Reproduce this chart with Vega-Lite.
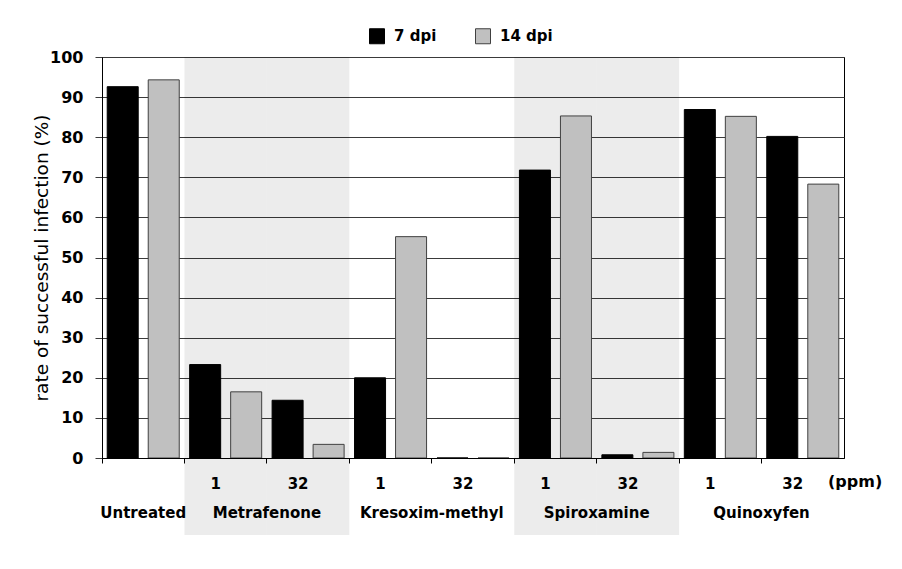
{
  "$schema": "https://vega.github.io/schema/vega-lite/v6.json",
  "width": 742,
  "height": 401,
  "autosize": "none",
  "padding": {"left": 102, "top": 57, "right": 58, "bottom": 111},
  "background": "white",
  "config": {
    "font": "DejaVu Sans",
    "view": {"stroke": "black", "strokeWidth": 1},
    "axisX": {
      "title": null, "bandPosition": 0, "grid": false,
      "domainColor": "black", "tickColor": "black", "tickSize": 5,
      "labelAngle": 0, "labelOffset": -10, "labelPadding": 13,
      "labelFontSize": 15, "labelFontWeight": "bold", "labelColor": "black",
      "labelOverlap": false
    },
    "axisY": {
      "titleFontSize": 18.5, "titleFontWeight": "normal", "titleColor": "black",
      "titlePadding": -2,
      "grid": true, "gridColor": "#3a3a3a", "gridWidth": 1,
      "domainColor": "black", "tickColor": "#3a3a3a", "tickSize": 7,
      "labelFontSize": 16, "labelFontWeight": "bold", "labelColor": "black",
      "labelPadding": 12
    },
    "legend": {
      "orient": "none",
      "legendX": 267,
      "legendY": -29,
      "direction": "horizontal",
      "symbolType": "square",
      "symbolSize": 225,
      "symbolStrokeWidth": 1,
      "labelFont": "DejaVu Sans",
      "labelFontSize": 15,
      "labelFontWeight": "bold",
      "labelColor": "black",
      "labelOffset": 9,
      "columnPadding": 36,
      "padding": 0
    }
  },
  "datasets": {
    "bars": [
      {"slot": "Untreated", "dpi": "7 dpi", "rate": 92.6},
      {"slot": "Untreated", "dpi": "14 dpi", "rate": 94.3},
      {"slot": "Metrafenone 1", "dpi": "7 dpi", "rate": 23.3},
      {"slot": "Metrafenone 1", "dpi": "14 dpi", "rate": 16.5},
      {"slot": "Metrafenone 32", "dpi": "7 dpi", "rate": 14.4},
      {"slot": "Metrafenone 32", "dpi": "14 dpi", "rate": 3.4},
      {"slot": "Kresoxim-methyl 1", "dpi": "7 dpi", "rate": 20.0},
      {"slot": "Kresoxim-methyl 1", "dpi": "14 dpi", "rate": 55.2},
      {"slot": "Kresoxim-methyl 32", "dpi": "7 dpi", "rate": 0},
      {"slot": "Kresoxim-methyl 32", "dpi": "14 dpi", "rate": 0},
      {"slot": "Spiroxamine 1", "dpi": "7 dpi", "rate": 71.8},
      {"slot": "Spiroxamine 1", "dpi": "14 dpi", "rate": 85.3},
      {"slot": "Spiroxamine 32", "dpi": "7 dpi", "rate": 0.8},
      {"slot": "Spiroxamine 32", "dpi": "14 dpi", "rate": 1.4},
      {"slot": "Quinoxyfen 1", "dpi": "7 dpi", "rate": 86.9},
      {"slot": "Quinoxyfen 1", "dpi": "14 dpi", "rate": 85.2},
      {"slot": "Quinoxyfen 32", "dpi": "7 dpi", "rate": 80.2},
      {"slot": "Quinoxyfen 32", "dpi": "14 dpi", "rate": 68.3}
    ],
    "bands": [
      {"slot": "Metrafenone 1"},
      {"slot": "Metrafenone 32"},
      {"slot": "Spiroxamine 1"},
      {"slot": "Spiroxamine 32"}
    ],
    "groups": [
      {"name": "Metrafenone", "slot": "Metrafenone 32"},
      {"name": "Kresoxim-methyl", "slot": "Kresoxim-methyl 32"},
      {"name": "Spiroxamine", "slot": "Spiroxamine 32"},
      {"name": "Quinoxyfen", "slot": "Quinoxyfen 32"}
    ],
    "untreated": [{"name": "Untreated", "slot": "Untreated"}],
    "unit": [{"label": "(ppm)", "slot": "Quinoxyfen 32"}]
  },
  "layer": [
    {
      "data": {"name": "bands"},
      "mark": {"type": "rect", "fill": "black", "fillOpacity": 0.075},
      "encoding": {
        "x": {"field": "slot", "type": "nominal", "title": null,
              "scale": {"domain": ["Untreated", "Metrafenone 1", "Metrafenone 32", "Kresoxim-methyl 1", "Kresoxim-methyl 32", "Spiroxamine 1", "Spiroxamine 32", "Quinoxyfen 1", "Quinoxyfen 32"], "paddingInner": 0, "paddingOuter": 0},
              "axis": {"labelExpr": "split(datum.value, ' ')[1] || ''"}},
        "y": {"datum": 100, "type": "quantitative", "title": "rate of successful infection (%)",
              "scale": {"domain": [0, 100]},
              "axis": {"values": [0, 10, 20, 30, 40, 50, 60, 70, 80, 90, 100]}},
        "y2": {"datum": -19.2}
      }
    },
    {
      "data": {"name": "bars"},
      "mark": {"type": "bar", "strokeWidth": 1},
      "encoding": {
        "x": {"field": "slot", "type": "nominal", "title": null,
              "scale": {"domain": ["Untreated", "Metrafenone 1", "Metrafenone 32", "Kresoxim-methyl 1", "Kresoxim-methyl 32", "Spiroxamine 1", "Spiroxamine 32", "Quinoxyfen 1", "Quinoxyfen 32"], "paddingInner": 0, "paddingOuter": 0},
              "axis": {"labelExpr": "split(datum.value, ' ')[1] || ''"}},
        "xOffset": {"field": "dpi", "type": "nominal", "sort": ["7 dpi", "14 dpi"],
                    "scale": {"paddingInner": 0.244, "paddingOuter": 0.127}},
        "y": {"field": "rate", "type": "quantitative",
              "title": "rate of successful infection (%)",
              "scale": {"domain": [0, 100]},
              "axis": {"values": [0, 10, 20, 30, 40, 50, 60, 70, 80, 90, 100]}},
        "fill": {"field": "dpi", "type": "nominal", "title": null,
                 "sort": ["7 dpi", "14 dpi"],
                 "scale": {"domain": ["7 dpi", "14 dpi"], "range": ["#000000", "#c0c0c0"]}},
        "stroke": {"field": "dpi", "type": "nominal", "title": null,
                   "sort": ["7 dpi", "14 dpi"],
                   "scale": {"domain": ["7 dpi", "14 dpi"], "range": ["#000000", "#404040"]}}
      }
    },
    {
      "data": {"name": "untreated"},
      "mark": {"type": "text", "fontSize": 15, "fontWeight": "bold", "color": "black", "align": "center", "baseline": "middle"},
      "encoding": {
        "x": {"field": "slot", "type": "nominal", "bandPosition": 0.5, "title": null,
              "axis": {"labelExpr": "split(datum.value, ' ')[1] || ''"}},
        "y": {"datum": -13.8, "type": "quantitative", "title": "rate of successful infection (%)",
              "axis": {"values": [0, 10, 20, 30, 40, 50, 60, 70, 80, 90, 100]}},
        "text": {"field": "name"}
      }
    },
    {
      "data": {"name": "groups"},
      "mark": {"type": "text", "fontSize": 15, "fontWeight": "bold", "color": "black", "align": "center", "baseline": "middle"},
      "encoding": {
        "x": {"field": "slot", "type": "nominal", "bandPosition": 0, "title": null,
              "axis": {"labelExpr": "split(datum.value, ' ')[1] || ''"}},
        "y": {"datum": -13.8, "type": "quantitative", "title": "rate of successful infection (%)",
              "axis": {"values": [0, 10, 20, 30, 40, 50, 60, 70, 80, 90, 100]}},
        "text": {"field": "name"}
      }
    },
    {
      "data": {"name": "unit"},
      "mark": {"type": "text", "fontSize": 16, "fontWeight": "bold", "color": "black", "align": "left", "baseline": "middle", "dx": -16},
      "encoding": {
        "x": {"field": "slot", "type": "nominal", "bandPosition": 1, "title": null,
              "axis": {"labelExpr": "split(datum.value, ' ')[1] || ''"}},
        "y": {"datum": -5.9, "type": "quantitative", "title": "rate of successful infection (%)",
              "axis": {"values": [0, 10, 20, 30, 40, 50, 60, 70, 80, 90, 100]}},
        "text": {"field": "label"}
      }
    }
  ]
}
